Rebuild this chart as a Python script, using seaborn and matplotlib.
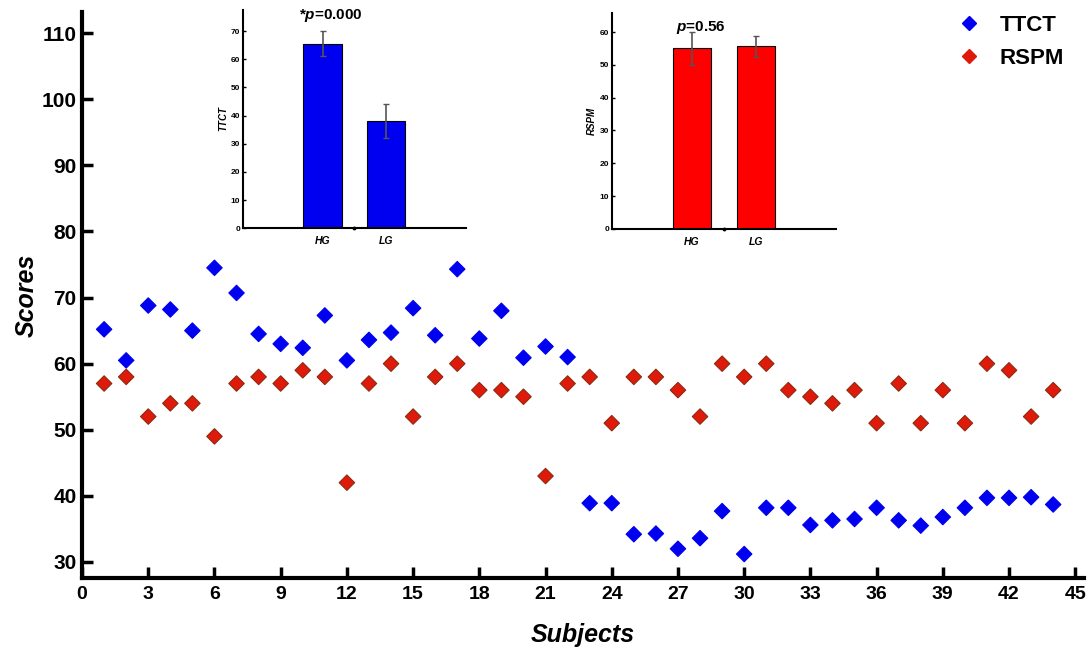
import numpy as np
import pandas as pd
import matplotlib
matplotlib.use("Agg")
import matplotlib.pyplot as plt
import seaborn as sns

# scores per subject
subjects = list(range(1, 45))
ttct = [65.2, 60.5, 68.8, 68.2, 65.0, 74.5, 70.7, 64.5, 63.0, 62.4,
        67.3, 60.5, 63.6, 64.7, 68.4, 64.3, 74.3, 63.8, 68.0, 60.9,
        62.6, 61.0, 38.9, 38.9, 34.2, 34.3, 32.0, 33.6, 37.7, 31.2,
        38.2, 38.2, 35.6, 36.3, 36.5, 38.2, 36.3, 35.5, 36.8, 38.2,
        39.7, 39.7, 39.8, 38.7]
rspm = [57, 58, 52, 54, 54, 49, 57, 58, 57, 59,
        58, 42, 57, 60, 52, 58, 60, 56, 56, 55,
        43, 57, 58, 51, 58, 58, 56, 52, 60, 58,
        60, 56, 55, 54, 56, 51, 57, 51, 56, 51,
        60, 59, 52, 56]

# group means (insets)
groups = ["HG", "LG"]
ttct_mean = [65.5, 38.0]
ttct_err = [4.5, 6.0]
rspm_mean = [55.0, 55.6]
rspm_err = [5.0, 3.3]

blue = "#0000F0"
red = "#E01A0A"

sns.set_style("white")
plt.rcParams["font.family"] = ["Liberation Sans", "DejaVu Sans"]
plt.rcParams.update({"text.color": "black", "axes.labelcolor": "black",
                     "xtick.color": "black", "ytick.color": "black",
                     "mathtext.fontset": "custom", "mathtext.bfit": "Liberation Sans:bold:italic",
                     "mathtext.it": "Liberation Sans:italic", "mathtext.bf": "Liberation Sans:bold"})

df = pd.DataFrame({
    "Subject": subjects * 2,
    "Score": ttct + rspm,
    "Test": ["TTCT"] * len(subjects) + ["RSPM"] * len(subjects),
})

fig = plt.figure(figsize=(10.88, 6.5), dpi=100)
ax = fig.add_axes([0.0754, 0.111, 0.921, 0.8705])

sns.scatterplot(data=df, x="Subject", y="Score", hue="Test",
                palette={"TTCT": blue, "RSPM": red}, marker="D", s=62,
                edgecolor=None, ax=ax, legend=False, zorder=3)
# darker rims on red markers
ax.collections[0].set_edgecolors([blue] * len(subjects) + ["#8B2A10"] * len(subjects))
ax.collections[0].set_linewidths(0.8)

ax.set_xlim(0, 45.4)
ax.set_ylim(27.6, 113.2)
ax.set_xticks(range(0, 46, 3))
ax.set_yticks(range(30, 111, 10))
for s in ["top", "right"]:
    ax.spines[s].set_visible(False)
for s in ["left", "bottom"]:
    ax.spines[s].set_linewidth(3)
    ax.spines[s].set_color("black")
ax.tick_params(axis="both", direction="in", width=2.5, length=8, colors="black",
               bottom=True, left=True)
ax.tick_params(axis="y", labelsize=15, pad=4)
ax.tick_params(axis="x", labelsize=14, pad=6)
for lab in ax.get_xticklabels() + ax.get_yticklabels():
    lab.set_fontweight("bold")
ax.set_xlabel("Subjects", fontsize=18, fontweight="bold", style="italic", labelpad=14)
ax.set_ylabel("Scores", fontsize=18, fontweight="bold", style="italic", labelpad=2)

# legend
handles = [plt.Line2D([], [], marker="D", linestyle="", color=blue, markersize=7),
           plt.Line2D([], [], marker="D", linestyle="", color=red, markersize=7)]
leg = ax.legend(handles, ["TTCT", "RSPM"], loc="upper right", bbox_to_anchor=(1.0, 1.03),
                frameon=False, handletextpad=0.6, labelspacing=0.55, handlelength=1.6,
                prop={"size": 16, "weight": "bold"})


def inset(rect, means, errs, color, ylabel, ymax, yticks, ptext, ptop):
    iax = fig.add_axes(rect)
    bdf = pd.DataFrame({"Group": groups, "Value": means})
    sns.barplot(data=bdf, x="Group", y="Value", color=color, width=0.6,
                edgecolor="black", linewidth=0.8, errorbar=None, saturation=1, ax=iax)
    iax.errorbar(range(len(groups)), means, yerr=errs, fmt="none",
                 ecolor="#555555", elinewidth=1.2, capsize=2)
    iax.set_xlim(-1.25, 2.25)
    iax.set_ylim(0, ymax)
    iax.set_yticks(yticks)
    iax.set_xticks([0, 1])
    iax.set_xticklabels(["HG", "LG"])
    for s in ["top", "right"]:
        iax.spines[s].set_visible(False)
    for s in ["left", "bottom"]:
        iax.spines[s].set_linewidth(1.5)
        iax.spines[s].set_color("black")
    iax.tick_params(axis="y", direction="in", length=2, width=1, labelsize=6, pad=2, left=True)
    iax.tick_params(axis="x", length=0, labelsize=7.5, pad=6)
    for lab in iax.get_xticklabels():
        lab.set_fontweight("bold")
        lab.set_style("italic")
    for lab in iax.get_yticklabels():
        lab.set_fontweight("bold")
    iax.plot([0.5], [0], marker="o", markersize=1.8, color="black", clip_on=False, zorder=5)
    iax.set_xlabel("")
    iax.set_ylabel(ylabel, fontsize=7, fontweight="bold", style="italic", labelpad=2)
    iax.text(0.13, ptop, ptext, fontsize=11, fontweight="bold", ha="center", va="top")
    return iax


inset([0.2233, 0.649, 0.205, 0.336], ttct_mean, ttct_err, blue, "TTCT", 77.6,
      range(0, 71, 10), r"*$\mathbfit{p}$=0.000", 78.5)
inset([0.5625, 0.648, 0.206, 0.332], rspm_mean, rspm_err, "#FF0000", "RSPM", 65.8,
      range(0, 61, 10), r"$\mathbfit{p}$=0.56", 64.0)

fig.savefig("out.png", dpi=100)
